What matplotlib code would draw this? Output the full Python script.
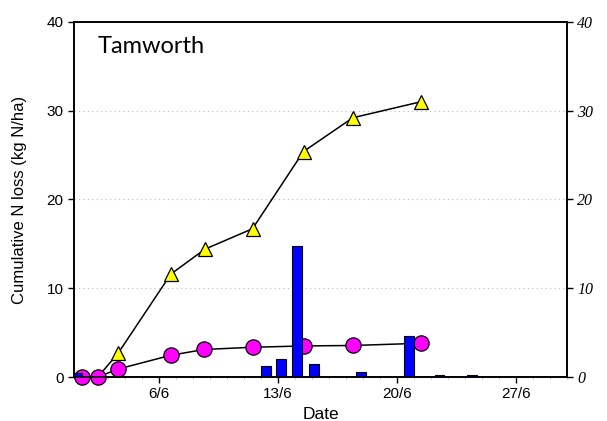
import matplotlib.pyplot as plt
import numpy as np

# days of June
tri_day = [1.45, 2.4, 3.6, 6.7, 8.7, 11.5, 14.5, 17.4, 21.4]
tri_val = [0.0, 0.0, 2.7, 11.6, 14.4, 16.7, 25.4, 29.2, 31.0]

circ_day = [1.45, 2.4, 3.6, 6.7, 8.65, 11.5, 14.5, 17.4, 21.4]
circ_val = [0.0, 0.0, 0.9, 2.45, 3.1, 3.35, 3.5, 3.55, 3.8]

bar_day = [1.2, 12.3, 13.2, 14.1, 15.1, 17.9, 20.7, 22.5, 24.4]
bar_val = [0.4, 1.25, 2.07, 14.8, 1.45, 0.6, 4.6, 0.2, 0.2]

xtick_days = [6, 13, 20, 27]
xtick_labels = ['6/6', '13/6', '20/6', '27/6']

fig = plt.figure(figsize=(6.07, 4.21), dpi=100)
ax = fig.add_axes([0.122, 0.1045, 0.812, 0.8435])

for v in [10, 20, 30]:
    ax.axhline(v, color='#bbbbbb', lw=0.8, ls=(0, (1, 3)), zorder=0)

# triangles at the zero points sit hidden behind the circles
ax.plot(tri_day, tri_val, color='black', lw=1.1, marker='^', ms=10.5,
        mfc='#ffff00', mec='black', mew=0.9, zorder=3, clip_on=False,
        markevery=list(range(2, len(tri_day))))
ax.plot(circ_day, circ_val, color='black', lw=1.1, marker='o', ms=11,
        mfc='#ff00ff', mec='black', mew=0.9, zorder=4, clip_on=False)

ax.set_xlim(1, 30)
ax.set_ylim(0, 40)
ax.set_xticks(xtick_days)
ax.set_xticklabels(xtick_labels, fontfamily='Liberation Sans', fontsize=11)
ax.set_xticks(np.arange(1, 31, 1), minor=True)
ax.set_yticks([0, 10, 20, 30, 40])
ax.set_yticklabels(['0', '10', '20', '30', '40'], fontfamily='Liberation Sans', fontsize=11)
ax.tick_params(axis='both', which='major', direction='out', length=4, width=1)
ax.tick_params(axis='x', which='minor', direction='out', length=1.5, width=0.5, color='#999999')
ax.set_xlabel('Date', fontfamily='Liberation Sans', fontsize=12.5, labelpad=4)
ax.set_ylabel('Cumulative N loss (kg N/ha)', fontfamily='Liberation Sans', fontsize=12, labelpad=14)

ax2 = ax.twinx()
ax2.bar(bar_day, bar_val, width=0.58, color='#0000ff', edgecolor='black', lw=0.8, zorder=2)
ax2.set_ylim(0, 40)
ax2.set_yticks([0, 10, 20, 30, 40])
ax2.set_yticklabels(['0', '10', '20', '30', '40'], fontfamily='Liberation Serif',
                    fontstyle='italic', fontsize=11.5)
ax2.tick_params(axis='y', direction='out', length=4, width=1)

for a in (ax, ax2):
    for s in a.spines.values():
        s.set_linewidth(1.2)

ax.text(0.047, 0.96, 'Tamworth', transform=ax.transAxes, ha='left', va='top',
        fontfamily='Lato', fontsize=17)

fig.savefig('out.png', dpi=100)
